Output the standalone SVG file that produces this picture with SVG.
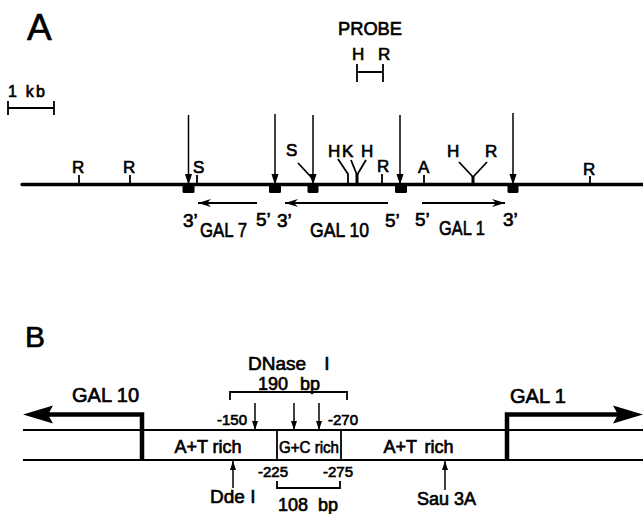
<svg xmlns="http://www.w3.org/2000/svg" width="643" height="514" viewBox="0 0 643 514">
  <defs>
    <style>
      text { font-family: "Liberation Sans", Arial, sans-serif; fill: #000; stroke: #000; stroke-width: 0.65; }
      .ln { stroke: #000; fill: none; }
      .main { stroke-width: 3.3; stroke-linecap: round; }
      .tick { stroke-width: 1.8; }
      .varr { stroke-width: 1.5; }
      .garr { stroke-width: 1.8; }
      .box { fill: #000; }
      .thin { stroke-width: 1.8; }
      .thick { stroke-width: 4.5; }
    </style>
    <marker id="vhead" markerUnits="userSpaceOnUse" markerWidth="12" markerHeight="8" refX="11" refY="3.5" orient="auto" viewBox="0 0 12 8">
      <path d="M0,0 L11,3.5 L0,7 Z" fill="#000"/>
    </marker>
    <marker id="ghead" markerUnits="userSpaceOnUse" markerWidth="14" markerHeight="9" refX="13" refY="4" orient="auto" viewBox="0 0 14 9">
      <path d="M0,0 L13,4 L0,8 L4,4 Z" fill="#000"/>
    </marker>
    <marker id="shead" markerUnits="userSpaceOnUse" markerWidth="10" markerHeight="7" refX="9" refY="3" orient="auto" viewBox="0 0 10 7">
      <path d="M0,0 L9,3 L0,6 Z" fill="#000"/>
    </marker>
  </defs>

  <g id="panel-a">
    <text x="27" y="40" font-size="37" stroke-width="0.9">A</text>

    <g id="scale-bar">
      <text x="8" y="97" font-size="16" textLength="37" lengthAdjust="spacing">1 kb</text>
      <path class="ln thin" d="M8,108 H54 M8,101 V115 M54,101 V115"/>
    </g>

    <g id="probe">
      <text x="338" y="35" font-size="19" textLength="64" lengthAdjust="spacingAndGlyphs">PROBE</text>
      <text x="352" y="60" font-size="17">H</text>
      <text x="378" y="60" font-size="17">R</text>
      <path class="ln thin" d="M357,72 H383 M357,64 V82 M383,64 V82"/>
    </g>

    <g id="chromosome">
      <line class="ln main" x1="22" y1="184.5" x2="643" y2="184.5"/>
    </g>

    <g id="sites">
      <text x="72" y="173" font-size="17">R</text>
      <line class="ln tick" x1="79" y1="175" x2="79" y2="184"/>
      <text x="123" y="173" font-size="17">R</text>
      <line class="ln tick" x1="130" y1="175" x2="130" y2="184"/>
      <text x="193" y="173" font-size="17">S</text>
      <line class="ln tick" x1="197" y1="175" x2="197" y2="184"/>
      <text x="286" y="156" font-size="17">S</text>
      <line class="ln tick" x1="298" y1="163" x2="312" y2="178"/>
      <text x="328" y="157" font-size="17">H</text>
      <text x="342" y="157" font-size="17">K</text>
      <text x="361" y="157" font-size="17">H</text>
      <path class="ln tick" d="M338,159 L348,174 V184"/>
      <path class="ln tick" d="M351,160 L357,175 M366,160 L357,175"/>
      <line class="ln" stroke-width="3" x1="357" y1="174" x2="357" y2="184"/>
      <text x="377" y="172" font-size="17">R</text>
      <line class="ln tick" x1="382" y1="174" x2="382" y2="184"/>
      <text x="418" y="173" font-size="17">A</text>
      <line class="ln tick" x1="424" y1="175" x2="424" y2="184"/>
      <text x="447" y="157" font-size="17">H</text>
      <text x="485" y="157" font-size="17">R</text>
      <path class="ln tick" d="M459,162 L473,177 M487,162 L473,177"/>
      <line class="ln" stroke-width="3" x1="473" y1="176" x2="473" y2="184"/>
      <text x="583" y="175" font-size="17">R</text>
      <line class="ln tick" x1="590" y1="176" x2="590" y2="184"/>
    </g>

    <g id="transcript-ends">
      <line class="ln varr" x1="188.5" y1="115" x2="188.5" y2="185" marker-end="url(#vhead)"/>
      <line class="ln varr" x1="275" y1="114" x2="275" y2="185" marker-end="url(#vhead)"/>
      <line class="ln varr" x1="313" y1="115" x2="313" y2="185" marker-end="url(#vhead)"/>
      <line class="ln varr" x1="400" y1="115" x2="400" y2="185" marker-end="url(#vhead)"/>
      <line class="ln varr" x1="513" y1="113" x2="513" y2="185" marker-end="url(#vhead)"/>
      <rect class="box" x="182.5" y="184" width="12" height="9" rx="1.5"/>
      <rect class="box" x="269" y="184" width="12" height="9" rx="1.5"/>
      <rect class="box" x="307.5" y="184" width="11" height="9" rx="1.5"/>
      <rect class="box" x="395" y="184" width="12" height="9" rx="1.5"/>
      <rect class="box" x="507.5" y="184" width="11" height="9" rx="1.5"/>
    </g>

    <g id="gal7">
      <line class="ln garr" x1="257" y1="203" x2="198" y2="203" marker-end="url(#ghead)"/>
      <text x="183" y="227" font-size="19">3’</text>
      <text transform="translate(200 237) scale(0.8 1)" font-size="21">GAL 7</text>
      <text x="256" y="226" font-size="19">5’</text>
    </g>
    <g id="gal10">
      <line class="ln garr" x1="388" y1="203" x2="285" y2="203" marker-end="url(#ghead)"/>
      <text x="277" y="227" font-size="19">3’</text>
      <text transform="translate(310 237) scale(0.84 1)" font-size="21">GAL 10</text>
      <text x="385" y="227" font-size="19">5’</text>
    </g>
    <g id="gal1">
      <line class="ln garr" x1="422" y1="203" x2="505" y2="203" marker-end="url(#ghead)"/>
      <text x="415" y="226" font-size="19">5’</text>
      <text transform="translate(439 235) scale(0.78 1)" font-size="21">GAL 1</text>
      <text x="503" y="226" font-size="19">3’</text>
    </g>
  </g>

  <g id="panel-b">
    <text x="25" y="347" font-size="30" stroke-width="0.8">B</text>

    <g id="dna">
      <path class="ln thin" d="M23,430 H643 M23,460 H643"/>
      <path class="ln thin" d="M277,430 V460 M341,430 V460"/>
    </g>

    <g id="gal10-start">
      <path class="ln thick" d="M142,460 V414.5 H48"/>
      <path d="M23,414.5 L53,405.5 L48,414.5 L53,423.5 Z" fill="#000"/>
      <text x="72" y="402" font-size="20">GAL 10</text>
    </g>
    <g id="gal1-start">
      <path class="ln thick" d="M507,460 V414.5 H618"/>
      <path d="M643,414.5 L613,405.5 L618,414.5 L613,423.5 Z" fill="#000"/>
      <text x="510" y="403" font-size="20">GAL 1</text>
    </g>

    <g id="dnase">
      <text x="248" y="370" font-size="19" word-spacing="13">DNase I</text>
      <text x="258" y="390" font-size="18" word-spacing="7">190 bp</text>
      <path class="ln thin" d="M230,400 V392 H347 V400"/>
      <line class="ln varr" x1="255" y1="403" x2="255" y2="430" marker-end="url(#shead)"/>
      <line class="ln varr" x1="294" y1="403" x2="294" y2="430" marker-end="url(#shead)"/>
      <line class="ln varr" x1="319" y1="403" x2="319" y2="430" marker-end="url(#shead)"/>
      <text x="247" y="425" font-size="15" text-anchor="end">-150</text>
      <text x="328" y="425" font-size="15">-270</text>
    </g>

    <g id="regions">
      <text x="208" y="453" font-size="18" text-anchor="middle">A+T rich</text>
      <text x="279" y="453" font-size="17" textLength="60" lengthAdjust="spacingAndGlyphs">G+C rich</text>
      <text x="418.5" y="453" font-size="18" text-anchor="middle" word-spacing="3">A+T rich</text>
    </g>

    <g id="gc-span">
      <text x="258" y="477" font-size="15">-225</text>
      <text x="323" y="477" font-size="15">-275</text>
      <path class="ln thin" d="M277,481 V488 H340 V481"/>
      <text x="278" y="511" font-size="18" word-spacing="5">108 bp</text>
    </g>

    <g id="dde">
      <line class="ln varr" x1="233" y1="488" x2="233" y2="461" marker-end="url(#shead)"/>
      <text x="210" y="503" font-size="19">Dde I</text>
    </g>
    <g id="sau">
      <line class="ln varr" x1="445" y1="490" x2="445" y2="461" marker-end="url(#shead)"/>
      <text x="417" y="505" font-size="18">Sau 3A</text>
    </g>
  </g>
</svg>
